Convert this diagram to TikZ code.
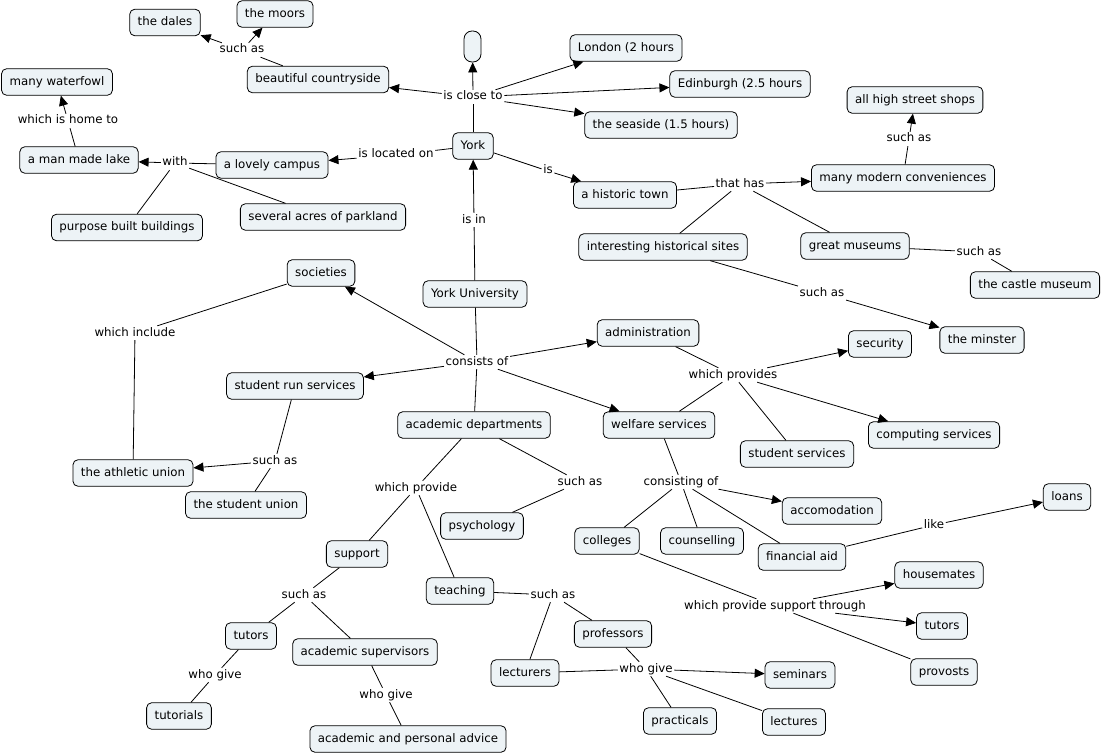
\documentclass[tikz,border=0pt]{standalone}
\usepackage{fontspec}
\setmainfont{DejaVu Sans}
\usetikzlibrary{arrows.meta}
\definecolor{cfill}{RGB}{237,243,246}
\begin{document}
\begin{tikzpicture}[x=1pt,y=-1pt,
  concept/.style={draw=black, line width=0.8pt, fill=cfill, rounded corners=5pt,
    inner xsep=8pt, inner ysep=0pt, minimum height=26.5pt,
    text height=9pt, text depth=2.5pt, font=\fontsize{11.8}{14}\selectfont},
  lbl/.style={inner sep=1.5pt, font=\fontsize{11.8}{14}\selectfont,
    text height=8.5pt, text depth=2.5pt},
  ln/.style={draw=black, line width=0.8pt},
  ar/.style={ln, -{Triangle[length=10pt,width=9pt]}}]
\useasboundingbox (0,0) rectangle (1102,754);
\fill[white] (0,0) rectangle (1102,754);

% concepts
\node[concept] (dales) at (165,22.5) {the dales};
\node[concept] (moors) at (275,14) {the moors};
\node[concept, minimum width=17pt, minimum height=31pt, inner sep=0pt, rounded corners=8pt] (blank) at (472.5,46.5) {};
\node[concept] (bc) at (318,79.5) {beautiful countryside};
\node[concept] (london) at (626,48) {London (2 hours};
\node[concept] (edin) at (740,84) {Edinburgh (2.5 hours};
\node[concept] (seaside) at (661,125) {the seaside (1.5 hours)};
\node[concept] (waterfowl) at (57,82) {many waterfowl};
\node[concept] (lake) at (79,160) {a man made lake};
\node[concept] (campus) at (272,165) {a lovely campus};
\node[concept] (york) at (473,146) {York};
\node[concept] (pbb) at (127,227.5) {purpose built buildings};
\node[concept] (parkland) at (323,217) {several acres of parkland};
\node[concept] (historic) at (625,195) {a historic town};
\node[concept] (modern) at (903,178) {many modern conveniences};
\node[concept] (shops) at (915,100) {all high street shops};
\node[concept] (sites) at (663,247) {interesting historical sites};
\node[concept] (museums) at (855,246) {great museums};
\node[concept] (castle) at (1035,285) {the castle museum};
\node[concept] (minster) at (982,340) {the minster};
\node[concept] (societies) at (321,273) {societies};
\node[concept] (yu) at (475,294) {York University};
\node[concept] (admin) at (648,333) {administration};
\node[concept] (srs) at (295,386) {student run services};
\node[concept] (security) at (880,344) {security};
\node[concept] (acad) at (474,425) {academic departments};
\node[concept] (welfare) at (659,425) {welfare services};
\node[concept] (computing) at (934,435) {computing services};
\node[concept] (stserv) at (797,454) {student services};
\node[concept] (athletic) at (133,473) {the athletic union};
\node[concept] (stunion) at (246,505) {the student union};
\node[concept] (psych) at (482,526) {psychology};
\node[concept] (accom) at (832,511) {accomodation};
\node[concept] (loans) at (1067,497) {loans};
\node[concept] (colleges) at (607,541) {colleges};
\node[concept] (counsel) at (702,541) {counselling};
\node[concept] (finaid) at (802,557) {financial aid};
\node[concept] (support) at (357,554) {support};
\node[concept] (teaching) at (460,591) {teaching};
\node[concept] (housemates) at (939,575) {housemates};
\node[concept] (professors) at (613,634) {professors};
\node[concept] (tutorsR) at (942,626) {tutors};
\node[concept] (tutorsL) at (251,636) {tutors};
\node[concept] (acsup) at (365,652) {academic supervisors};
\node[concept] (lecturers) at (525,673) {lecturers};
\node[concept] (seminars) at (800,675) {seminars};
\node[concept] (provosts) at (944,672) {provosts};
\node[concept] (practicals) at (680,721) {practicals};
\node[concept] (lectures) at (794,722) {lectures};
\node[concept] (tutorials) at (179,716) {tutorials};
\node[concept] (advice) at (408,739) {academic and personal advice};

% linking phrases
\node[lbl] (l1) at (242,50) {such as};
\node[lbl] (l2) at (473,97) {is close to};
\node[lbl] (l3) at (68,121) {which is home to};
\node[lbl] (l4) at (175,163) {with};
\node[lbl] (l5) at (396,155) {is located on};
\node[lbl] (l6) at (548,171) {is};
\node[lbl] (l7) at (740,184) {that has};
\node[lbl] (l8) at (909,139) {such as};
\node[lbl] (l9) at (979,252) {such as};
\node[lbl] (l10) at (822,293) {such as};
\node[lbl] (l11) at (474,220) {is in};
\node[lbl] (l12) at (135,333) {which include};
\node[lbl] (l13) at (477,362) {consists of};
\node[lbl] (l14) at (733,375) {which provides};
\node[lbl] (l15) at (275,461) {such as};
\node[lbl] (l16) at (416,488) {which provide};
\node[lbl] (l17) at (580,482) {such as};
\node[lbl] (l18) at (681,482) {consisting of};
\node[lbl] (l19) at (934,525) {like};
\node[lbl] (l20) at (304,595) {such as};
\node[lbl] (l21) at (553,595) {such as};
\node[lbl] (l22) at (775,606) {which provide support through};
\node[lbl] (l23) at (215,675) {who give};
\node[lbl] (l24) at (386,695) {who give};
\node[lbl] (l25) at (646,669) {who give};

% connectors
\draw[ln] (york) -- (l2);
\draw[ar] (l2) -- (blank);
\draw[ar] (l2) -- (bc);
\draw[ar] (l2) -- (london);
\draw[ar] (l2) -- (edin);
\draw[ar] (l2) -- (seaside);
\draw[ln] (bc) -- (l1);
\draw[ar] (l1) -- (dales);
\draw[ar] (l1) -- (moors);
\draw[ln] (york) -- (l5);
\draw[ar] (l5) -- (campus);
\draw[ln] (campus) -- (l4);
\draw[ar] (l4) -- (lake);
\draw[ln] (l4) -- (pbb);
\draw[ln] (l4) -- (parkland);
\draw[ln] (lake) -- (l3);
\draw[ar] (l3) -- (waterfowl);
\draw[ln] (york) -- (l6);
\draw[ar] (l6) -- (historic);
\draw[ln] (historic) -- (l7);
\draw[ar] (l7) -- (modern);
\draw[ln] (l7) -- (sites);
\draw[ln] (l7) -- (museums);
\draw[ln] (modern) -- (l8);
\draw[ar] (l8) -- (shops);
\draw[ln] (museums) -- (l9);
\draw[ln] (l9) -- (castle);
\draw[ln] (sites) -- (l10);
\draw[ar] (l10) -- (minster);
\draw[ln] (yu) -- (l11);
\draw[ar] (l11) -- (york);
\draw[ln] (yu) -- (l13);
\draw[ar] (l13) -- (societies);
\draw[ar] (l13) -- (srs);
\draw[ar] (l13) -- (admin);
\draw[ar] (l13) -- (welfare);
\draw[ln] (l13) -- (acad);
\draw[ln] (societies) -- (l12);
\draw[ln] (l12) -- (athletic);
\draw[ln] (srs) -- (l15);
\draw[ar] (l15) -- (athletic);
\draw[ln] (l15) -- (stunion);
\draw[ln] (admin) -- (l14);
\draw[ar] (l14) -- (security);
\draw[ar] (l14) -- (computing);
\draw[ln] (l14) -- (stserv);
\draw[ln] (l14) -- (welfare);
\draw[ln] (welfare) -- (l18);
\draw[ar] (l18) -- (accom);
\draw[ln] (l18) -- (colleges);
\draw[ln] (l18) -- (counsel);
\draw[ln] (l18) -- (finaid);
\draw[ln] (finaid) -- (l19);
\draw[ar] (l19) -- (loans);
\draw[ln] (colleges) -- (l22);
\draw[ar] (l22) -- (housemates);
\draw[ar] (l22) -- (tutorsR);
\draw[ln] (l22) -- (provosts);
\draw[ln] (acad) -- (l16);
\draw[ln] (l16) -- (support);
\draw[ln] (l16) -- (teaching);
\draw[ln] (acad) -- (l17);
\draw[ln] (l17) -- (psych);
\draw[ln] (support) -- (l20);
\draw[ln] (l20) -- (tutorsL);
\draw[ln] (l20) -- (acsup);
\draw[ln] (tutorsL) -- (l23);
\draw[ln] (l23) -- (tutorials);
\draw[ln] (acsup) -- (l24);
\draw[ln] (l24) -- (advice);
\draw[ln] (teaching) -- (l21);
\draw[ln] (l21) -- (professors);
\draw[ln] (l21) -- (lecturers);
\draw[ln] (professors) -- (l25);
\draw[ln] (lecturers) -- (l25);
\draw[ar] (l25) -- (seminars);
\draw[ln] (l25) -- (practicals);
\draw[ln] (l25) -- (lectures);
\end{tikzpicture}
\end{document}
